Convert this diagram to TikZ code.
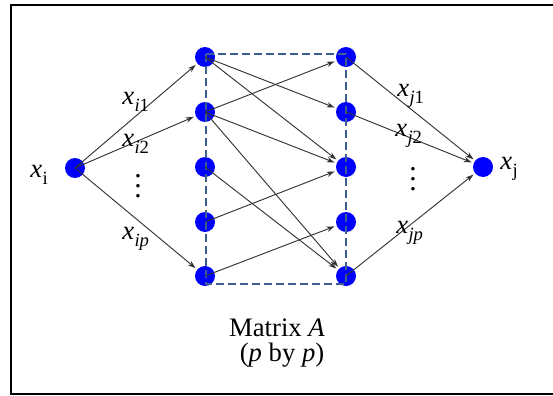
\documentclass[tikz,border=0pt]{standalone}
\usepackage{fontspec}
\setmainfont{Liberation Serif}
\usetikzlibrary{arrows.meta}
\definecolor{dashblue}{HTML}{3D5F8F}
\newcommand{\xsub}[1]{\textit{x}\kern0.3pt\raisebox{-5.5pt}{\fontsize{14}{14}\selectfont #1}}
\begin{document}
\begin{tikzpicture}[x=0.75pt,y=-0.75pt,
  dot/.style={circle,fill=blue,draw=none,minimum size=15pt,inner sep=0pt},
  conn/.style={draw=black!80,line width=0.7pt,-{Stealth[length=6pt,width=4pt]},shorten >=1.5pt},
  lbl/.style={anchor=base west,inner sep=0pt,font=\fontsize{20}{20}\selectfont},
  vdt/.style={anchor=base,inner sep=0pt,align=center,font=\fontsize{22}{7.5}\selectfont},
  captxt/.style={anchor=base,inner sep=0pt,font=\fontsize{20}{20}\selectfont}]
\useasboundingbox (0,0) rectangle (553,396);
\clip (0,0) rectangle (553,396);
\draw[line width=1.6pt] (11,5) rectangle (570,394);
% nodes
\node[dot] (xi) at (75,168) {};
\node[dot] (xj) at (483,167) {};
\foreach \k/\y in {1/57,2/112,3/167,4/222,5/276}{
  \node[dot] (L\k) at (205,\y) {};
  \node[dot] (R\k) at (346,\y) {};
}
% dashed matrix box
\draw[dashblue,line width=1.5pt,dash pattern=on 6pt off 3pt] (206,54) rectangle (346,284);
% edges
\draw[conn] (xi.center) -- (L1);
\draw[conn] (xi.center) -- (L2);
\draw[conn] (xi.center) -- (L5);
\draw[conn] (L1.center) -- (R2);
\draw[conn] (L1.center) -- (R3);
\draw[conn] (L2.center) -- (R1);
\draw[conn] (L2.center) -- (R3);
\draw[conn] (L2.center) -- (R5);
\draw[conn] (L3.center) -- (R5);
\draw[conn] (L4.center) -- (R3);
\draw[conn] (L5.center) -- (R4);
\draw[conn] (R1.center) -- (xj);
\draw[conn] (R2.center) -- (xj);
\draw[conn] (R5.center) -- (xj);
% labels
\node[lbl] (lxi) at (30,177) {\xsub{i}};
\node[lbl] (lxj) at (500,169) {\xsub{j}};
\node[lbl] (li1) at (122,104) {\xsub{\textit{i}1}};
\node[lbl] (li2) at (122,146) {\xsub{\textit{i}2}};
\node[lbl] (lip) at (122,239) {\xsub{\textit{ip}}};
\node[lbl] (lj1) at (397,96) {\xsub{\textit{j}1}};
\node[lbl] (lj2) at (395,136) {\xsub{\textit{j}2}};
\node[lbl] (ljp) at (396,233) {\xsub{\textit{jp}}};
\node[vdt] (vi) at (138,197) {.\\.\\.};
\node[vdt] (vj) at (413,190) {.\\.\\.};
\node[captxt] (m1) at (277,336) {Matrix \textit{A}};
\node[captxt] (m2) at (282,361) {(\textit{p} by \textit{p})};
\end{tikzpicture}
\end{document}
